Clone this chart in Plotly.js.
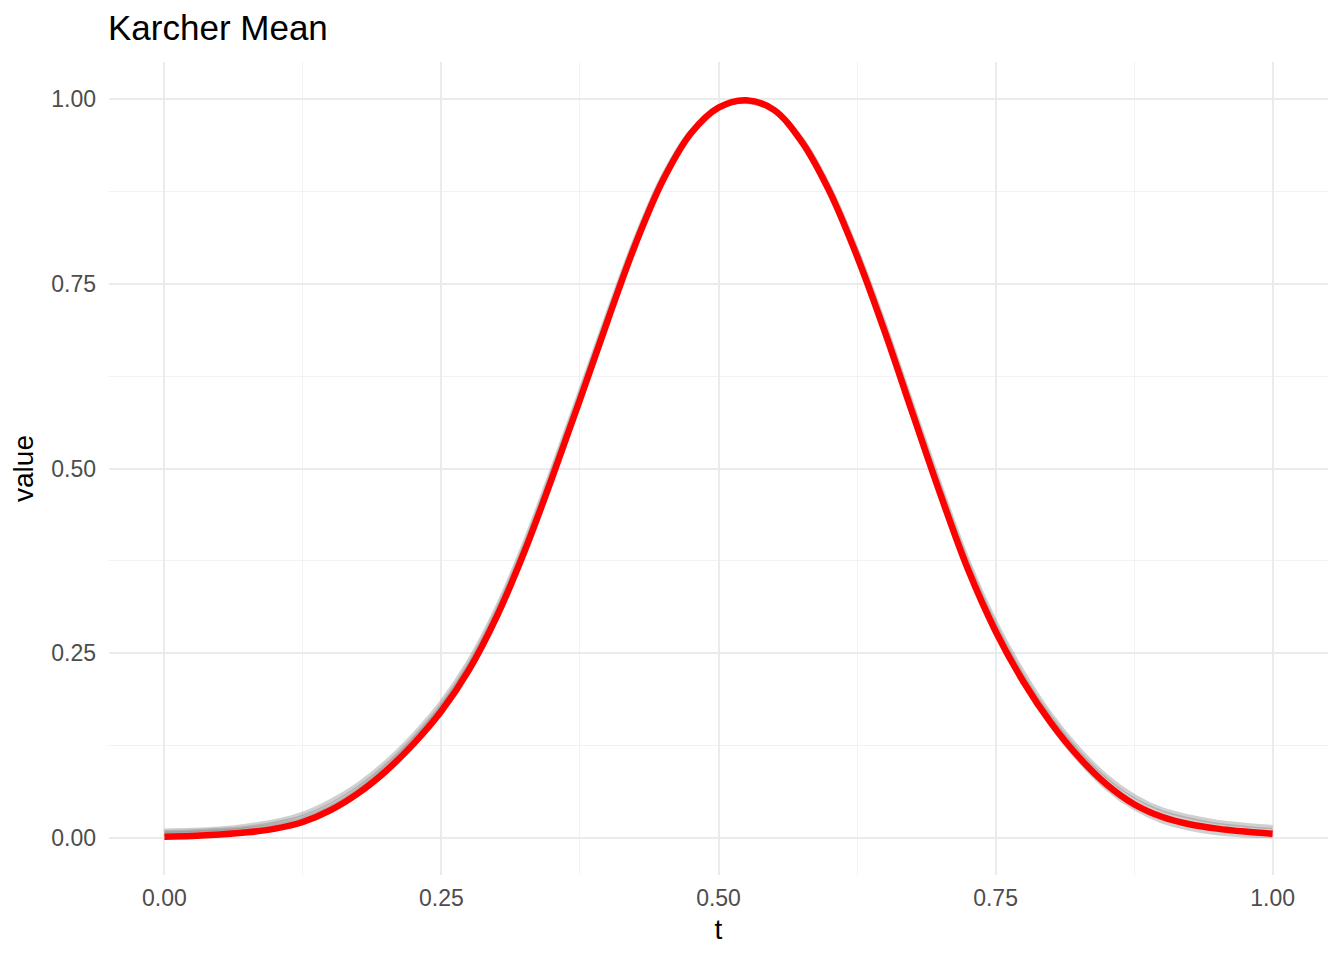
<!DOCTYPE html>
<html>
<head>
<meta charset="utf-8">
<script src="https://cdn.plot.ly/plotly-3.0.1.min.js"></script>
<style>
  html, body { margin: 0; padding: 0; background: #ffffff; }
  #chart { width: 1344px; height: 960px; }
</style>
</head>
<body>
<div id="chart"></div>
<script>
// Time grid (t)
const tValues = [0.000,0.025,0.050,0.075,0.100,0.125,0.150,0.175,0.200,0.225,
                 0.250,0.275,0.300,0.325,0.350,0.375,0.400,0.425,0.450,0.475,
                 0.500,0.525,0.550,0.575,0.600,0.625,0.650,0.675,0.700,0.725,
                 0.750,0.775,0.800,0.825,0.850,0.875,0.900,0.925,0.950,0.975,1.000];

// Karcher mean (red)
const karcherMean = [0.002,0.003,0.005,0.008,0.013,0.022,0.038,0.061,0.091,0.128,
                     0.172,0.228,0.300,0.388,0.488,0.593,0.700,0.803,0.890,0.953,
                     0.988,0.998,0.985,0.942,0.875,0.787,0.685,0.575,0.466,0.364,
                     0.280,0.212,0.156,0.110,0.073,0.046,0.029,0.019,0.013,0.009,0.006];

// Aligned sample curves (grey)
const curveA = [0.010,0.011,0.013,0.017,0.023,0.033,0.050,0.073,0.103,0.140,
                0.184,0.240,0.312,0.400,0.500,0.604,0.710,0.811,0.896,0.956,
                0.989,0.996,0.984,0.946,0.881,0.795,0.695,0.586,0.478,0.376,
                0.292,0.224,0.167,0.121,0.084,0.057,0.039,0.029,0.022,0.018,0.015];
const curveB = [0.006,0.007,0.009,0.012,0.017,0.026,0.042,0.065,0.095,0.132,
                0.176,0.232,0.304,0.392,0.492,0.597,0.704,0.806,0.892,0.954,
                0.988,0.997,0.984,0.942,0.876,0.789,0.688,0.578,0.469,0.366,
                0.281,0.211,0.153,0.106,0.068,0.041,0.023,0.013,0.007,0.004,0.003];
const curveC = [0.008,0.009,0.011,0.014,0.020,0.029,0.045,0.068,0.098,0.135,
                0.179,0.235,0.307,0.395,0.495,0.600,0.706,0.808,0.894,0.955,
                0.988,0.997,0.985,0.945,0.879,0.792,0.691,0.582,0.473,0.371,
                0.287,0.218,0.162,0.116,0.079,0.052,0.035,0.025,0.018,0.014,0.011];

const greyCurves = [curveA, curveB, curveC];

// Tick labels
const xTickVals = [0, 0.25, 0.5, 0.75, 1];
const xTickText = ["0.00", "0.25", "0.50", "0.75", "1.00"];
const yTickVals = [0, 0.25, 0.5, 0.75, 1];
const yTickText = ["0.00", "0.25", "0.50", "0.75", "1.00"];

const FONT = '"Liberation Sans", Arial, Helvetica, sans-serif';

const traces = greyCurves.map(function (c) {
  return {
    x: tValues, y: c, type: 'scatter', mode: 'lines',
    line: { color: 'rgba(120,120,120,0.35)', width: 4.5, shape: 'spline', smoothing: 1 },
    hoverinfo: 'skip', showlegend: false
  };
});
traces.push({
  x: tValues, y: karcherMean, type: 'scatter', mode: 'lines',
  line: { color: '#ff0000', width: 6.5, shape: 'spline', smoothing: 1 },
  showlegend: false
});

const layout = {
  width: 1344, height: 960,
  paper_bgcolor: '#ffffff', plot_bgcolor: '#ffffff',
  margin: { l: 108.5, r: 15.5, t: 62, b: 85 },
  font: { family: FONT, color: '#000000' },
  title: {
    text: 'Karcher Mean',
    font: { family: FONT, size: 35, color: '#000000' },
    xref: 'container', x: 108 / 1344, xanchor: 'left',
    yref: 'container', y: 1 - 28 / 960, yanchor: 'middle'
  },
  xaxis: {
    range: [-0.05, 1.05],
    tickvals: xTickVals, ticktext: xTickText,
    ticks: '', showline: false, zeroline: false,
    showgrid: true, gridcolor: '#ebebeb', gridwidth: 2,
    minor: { tick0: 0, dtick: 0.125, showgrid: true, gridcolor: '#f2f2f2', gridwidth: 1, ticks: '' },
    tickfont: { family: FONT, size: 23, color: '#4d4d4d' },
    ticklabelstandoff: 7,
    automargin: false,
    title: { text: 't', font: { family: FONT, size: 28, color: '#000000' }, standoff: 9 }
  },
  yaxis: {
    range: [-0.0497, 1.0497],
    tickvals: yTickVals, ticktext: yTickText,
    ticks: '', showline: false, zeroline: false,
    showgrid: true, gridcolor: '#ebebeb', gridwidth: 2,
    minor: { tick0: 0, dtick: 0.125, showgrid: true, gridcolor: '#f2f2f2', gridwidth: 1, ticks: '' },
    tickfont: { family: FONT, size: 23, color: '#4d4d4d' },
    ticklabelstandoff: 12,
    automargin: false,
    title: { text: 'value', font: { family: FONT, size: 28, color: '#000000' }, standoff: 9 }
  }
};

Plotly.newPlot('chart', traces, layout, { displayModeBar: false, staticPlot: true });
</script>
</body>
</html>
